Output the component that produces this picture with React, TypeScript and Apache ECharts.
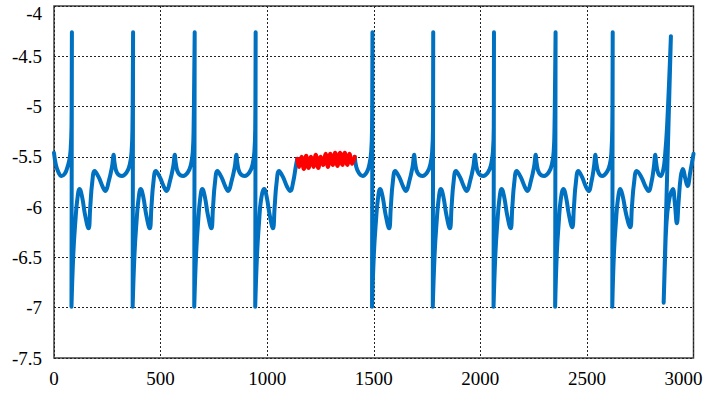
import React, { useEffect, useRef } from "react";
import * as echarts from "echarts";

// Axis ranges / ticks
const xMin = 0;
const xMax = 3000;
const xStep = 500;
const yMin = -7.5;
const yMax = -4;
const yStep = 0.5;

// Start of the trace, before the first spike: [x, value]
const startPart: [number, number][] = [
  [0, -5.46], [8, -5.57], [20, -5.65], [35, -5.69], [50, -5.67], [62, -5.61],
  [72, -5.53], [78, -5.43], [82, -5.2],
];

// X of the spike tops of the regular cycles
const spikeX = [84, 371, 660, 1494, 1779, 2064];

// One regular cycle: offset from the spike top, value
const cycleOffsets = [0, -2, 7, 16, 25, 36, 48, 62, 78, 86, 95, 107, 125, 145, 157, 172, 188, 196, 200, 212, 235, 258, 272, 280, 284];
const cycleValues = [-4.26, -6.99, -6.45, -6.15, -5.93, -5.82, -5.9, -6.08, -6.21, -6.0, -5.76, -5.64, -5.7, -5.8, -5.84, -5.75, -5.6, -5.48, -5.56, -5.66, -5.69, -5.65, -5.57, -5.45, -5.2];

// Cycle cut off by the red segment
const cycle4: [number, number][] = [
  [946, -4.26], [944, -6.99], [953, -6.45], [962, -6.15], [971, -5.93], [986, -5.82],
  [998, -5.9], [1012, -6.08], [1027, -6.21], [1035, -6.0], [1044, -5.76], [1056, -5.64],
  [1074, -5.7], [1094, -5.8], [1108, -5.84], [1122, -5.75], [1134, -5.6], [1141, -5.52],
];

// Red segment
const redPart: [number, number][] = [
  [1141, -5.52], [1150, -5.6], [1161, -5.5], [1172, -5.62], [1183, -5.49], [1194, -5.61],
  [1206, -5.5], [1217, -5.6], [1228, -5.48], [1240, -5.61], [1251, -5.5], [1262, -5.58],
  [1274, -5.47], [1285, -5.6], [1296, -5.47], [1308, -5.58], [1319, -5.46], [1330, -5.59],
  [1342, -5.46], [1353, -5.58], [1364, -5.46], [1376, -5.58], [1387, -5.47], [1398, -5.57],
  [1411, -5.5],
];

// After the red segment, up to the next spike
const afterRed: [number, number][] = [
  [1411, -5.5], [1418, -5.6], [1430, -5.66], [1448, -5.69], [1468, -5.65], [1480, -5.57],
  [1488, -5.45], [1492, -5.2],
];

const cycle9: [number, number][] = [
  [2353, -4.26], [2351, -6.99], [2359, -6.45], [2368, -6.15], [2377, -5.93], [2390, -5.82],
  [2402, -5.9], [2416, -6.08], [2431, -6.2], [2439, -6.0], [2448, -5.76], [2460, -5.64],
  [2477, -5.7], [2496, -5.8], [2508, -5.84], [2521, -5.75], [2533, -5.6], [2540, -5.48],
  [2544, -5.56], [2555, -5.66], [2572, -5.69], [2594, -5.65], [2608, -5.57], [2615, -5.45],
  [2619, -5.2],
];

const cycle10: [number, number][] = [
  [2621, -4.26], [2619, -6.99], [2627, -6.45], [2636, -6.15], [2645, -5.93], [2657, -5.82],
  [2669, -5.9], [2685, -6.08], [2703, -6.2], [2711, -6.0], [2721, -5.76], [2734, -5.64],
  [2755, -5.7], [2776, -5.8], [2789, -5.84], [2803, -5.75], [2814, -5.6], [2821, -5.48],
  [2825, -5.56], [2834, -5.66], [2846, -5.69], [2858, -5.63], [2866, -5.5], [2876, -5.2],
];

const lastPart: [number, number][] = [
  [2894, -4.3], [2860, -6.95], [2866, -6.55], [2872, -6.2], [2884, -5.95], [2903, -5.82],
  [2912, -5.95], [2922, -6.16], [2930, -5.95], [2940, -5.7], [2950, -5.62], [2962, -5.72],
  [2972, -5.79], [2985, -5.65], [3000, -5.47],
];

const BLUE = "#0070C0";
const RED = "#FF0000";
const FONT = "Liberation Serif";

function cycleAt(x0: number): [number, number][] {
  return cycleOffsets.map((o, i) => [x0 + o, cycleValues[i]] as [number, number]);
}

export default function App() {
  const ref = useRef<HTMLDivElement>(null);

  useEffect(() => {
    if (!ref.current) return;
    document.body.style.margin = "0";
    const chart = echarts.init(ref.current, undefined, { renderer: "svg" });

    const blueA: [number, number][] = [
      ...startPart,
      ...cycleAt(spikeX[0]),
      ...cycleAt(spikeX[1]),
      ...cycleAt(spikeX[2]),
      ...cycle4,
    ];
    const blueB: [number, number][] = [
      ...afterRed,
      ...cycleAt(spikeX[3]),
      ...cycleAt(spikeX[4]),
      ...cycleAt(spikeX[5]),
      ...cycle9,
      ...cycle10,
      ...lastPart,
    ];

    const lineCommon = {
      type: "line" as const,
      showSymbol: false,
      symbol: "none",
      smooth: 0.45,
      animation: false,
      silent: true,
    };

    const labelStyle = { fontSize: 19, fontFamily: FONT, color: "#000" };

    chart.setOption({
      animation: false,
      backgroundColor: "#ffffff",
      grid: {
        left: 54,
        right: 11.5,
        top: 6,
        bottom: 36,
        show: true,
        borderColor: "#404040",
        borderWidth: 1.5,
        backgroundColor: "transparent",
        containLabel: false,
        outerBoundsMode: "none",
      },
      xAxis: {
        type: "value",
        min: xMin,
        max: xMax,
        interval: xStep,
        axisLine: { show: false },
        axisTick: { show: false },
        axisLabel: {
          ...labelStyle,
          margin: 11,
          formatter: (v: number) => (v === xMax ? "{r|" + String(v) + "}" : String(v)),
          rich: {
            r: { ...labelStyle, padding: [0, 20, 0, 0] },
          },
        },
        splitLine: {
          show: true,
          lineStyle: { color: "#222", width: 1, type: [2, 2] },
        },
      },
      yAxis: {
        type: "value",
        min: yMin,
        max: yMax,
        interval: yStep,
        axisLine: { show: false },
        axisTick: { show: false },
        axisLabel: {
          ...labelStyle,
          margin: 12,
          formatter: (v: number) => (v === yMax ? "{t|" + String(v) + "}" : String(v)),
          rich: {
            t: { ...labelStyle, padding: [14, 0, 0, 0] },
          },
        },
        splitLine: {
          show: true,
          lineStyle: { color: "#222", width: 1, type: [2, 2] },
        },
      },
      series: [
        { ...lineCommon, data: blueA, lineStyle: { color: BLUE, width: 4, cap: "round", join: "round" } },
        { ...lineCommon, data: blueB, lineStyle: { color: BLUE, width: 4, cap: "round", join: "round" } },
        { ...lineCommon, data: redPart, z: 3, lineStyle: { color: RED, width: 4, cap: "round", join: "round" } },
      ],
    });

    return () => chart.dispose();
  }, []);

  return (
    <div
      ref={ref}
      style={{ position: "absolute", left: 0, top: 0, width: 705, height: 394 }}
    />
  );
}
